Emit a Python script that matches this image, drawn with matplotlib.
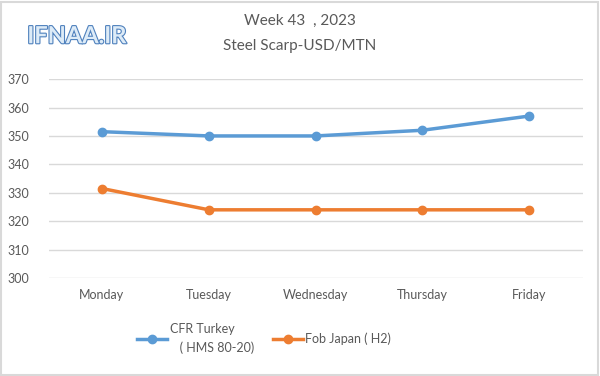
import matplotlib.pyplot as plt
from matplotlib.patches import Rectangle
import matplotlib.patheffects as pe

days = ["Monday", "Tuesday", "Wednesday", "Thursday", "Friday"]
cfr_turkey = [351.5, 350, 350, 352, 357]
fob_japan = [331.5, 324, 324, 324, 324]
yticks = [300, 310, 320, 330, 340, 350, 360, 370]

blue = "#5B9BD5"
orange = "#ED7D31"
text_col = "#595959"

plt.rcParams["font.family"] = ["Lato", "DejaVu Sans"]

fig = plt.figure(figsize=(6, 3.76), dpi=100)
ax = fig.add_axes([0.081, 0.2606, 0.890, 0.529])

x = range(len(days))
ax.plot(x, cfr_turkey, color=blue, lw=2.5, marker="o", ms=6,
        label="CFR Turkey\n   ( HMS 80-20)")
ax.plot(x, fob_japan, color=orange, lw=2.5, marker="o", ms=6,
        label="Fob Japan ( H2)")

ax.set_xlim(-0.5, len(days) - 0.5)
ax.set_ylim(300, 370)
ax.set_yticks(yticks)
ax.set_xticks(list(x))
ax.set_xticklabels(days)
ax.grid(axis="y", color="#D9D9D9", lw=1)
ax.set_axisbelow(True)
for s in ax.spines.values():
    s.set_visible(False)
ax.tick_params(length=0, labelsize=9, colors=text_col, pad=8)
ax.tick_params(axis="y", pad=14)

fig.text(0.5, 0.945, "Week 43  , 2023", ha="center", va="center",
         fontsize=11, color=text_col)
fig.text(0.5, 0.878, "Steel Scarp-USD/MTN", ha="center", va="center",
         fontsize=11, color=text_col)

logo = fig.text(0.128, 0.905, "IFNAA.IR", ha="center", va="center",
                fontsize=17, color="#DDEBF7", fontweight="bold")
logo.set_path_effects([pe.withStroke(linewidth=1.6, foreground="#4F81BD")])

leg = fig.legend(loc="center", bbox_to_anchor=(0.44, 0.1), ncol=2,
                 frameon=False, fontsize=9, handlelength=2.4,
                 handletextpad=0.2, columnspacing=1.5, labelspacing=0.2)
for t in leg.get_texts():
    t.set_color(text_col)
    t.set_linespacing(1.6)

fig.patches.append(Rectangle((0.002, 0.003), 0.995, 0.993, transform=fig.transFigure,
                             fill=False, edgecolor="#D9D9D9", lw=1.5))

fig.savefig("out.png", dpi=100)
